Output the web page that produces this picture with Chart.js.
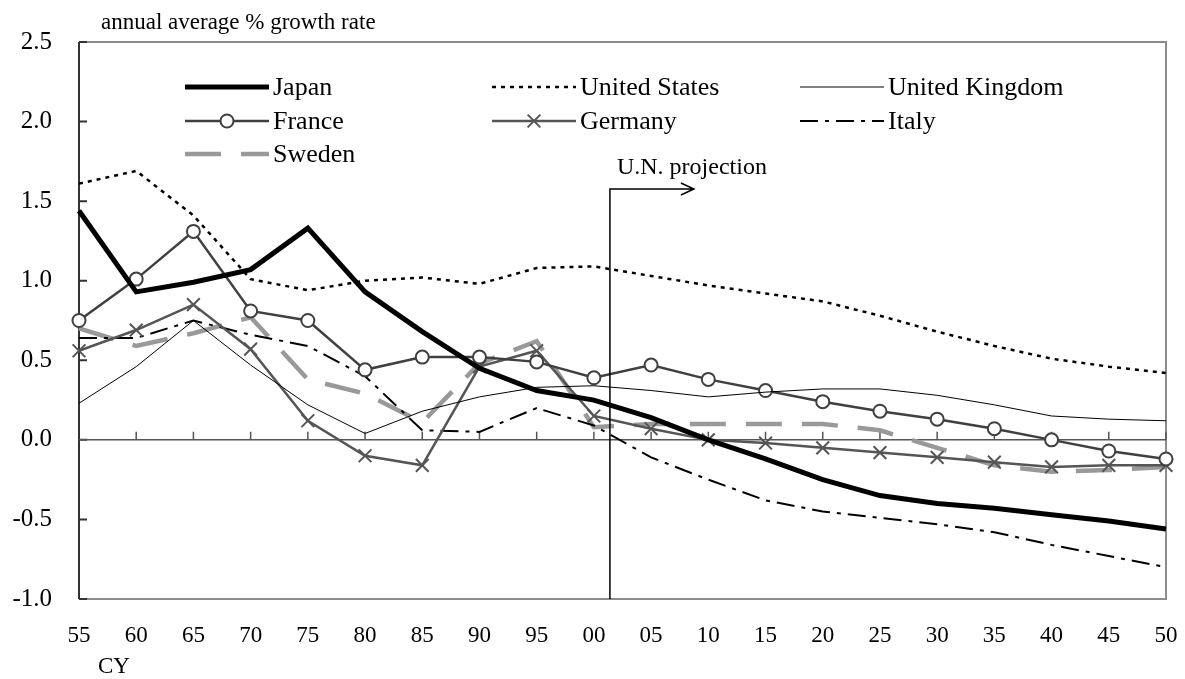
<!DOCTYPE html>
<html>
<head>
<meta charset="utf-8">
<script src="https://cdn.jsdelivr.net/npm/chart.js@4.4.1/dist/chart.umd.min.js"></script>
<style>
html, body { margin: 0; padding: 0; background: #fff; }
#wrap { width: 1185px; height: 679px; }
</style>
</head>
<body>
<div id="wrap"><canvas id="chart"></canvas></div>
<script>
const years = ['55', '60', '65', '70', '75', '80', '85', '90', '95', '00',
	'05', '10', '15', '20', '25', '30', '35', '40', '45', '50'];

const japan   = [1.44, 0.93, 0.99, 1.07, 1.33, 0.93, 0.68, 0.45, 0.31, 0.25, 0.14, 0.00, -0.12, -0.25, -0.35, -0.40, -0.43, -0.47, -0.51, -0.56];
const usa     = [1.61, 1.69, 1.41, 1.01, 0.94, 1.00, 1.02, 0.98, 1.08, 1.09, 1.03, 0.97, 0.92, 0.87, 0.78, 0.68, 0.59, 0.51, 0.46, 0.42];
const uk      = [0.23, 0.46, 0.75, 0.47, 0.22, 0.04, 0.18, 0.27, 0.33, 0.34, 0.31, 0.27, 0.30, 0.32, 0.32, 0.28, 0.22, 0.15, 0.13, 0.12];
const france  = [0.75, 1.01, 1.31, 0.81, 0.75, 0.44, 0.52, 0.52, 0.49, 0.39, 0.47, 0.38, 0.31, 0.24, 0.18, 0.13, 0.07, 0.00, -0.07, -0.12];
const germany = [0.56, 0.69, 0.85, 0.57, 0.12, -0.10, -0.16, 0.46, 0.56, 0.15, 0.07, 0.00, -0.02, -0.05, -0.08, -0.11, -0.14, -0.17, -0.16, -0.16];
const italy   = [0.64, 0.64, 0.75, 0.66, 0.59, 0.40, 0.06, 0.05, 0.20, 0.09, -0.11, -0.25, -0.38, -0.45, -0.49, -0.53, -0.58, -0.66, -0.73, -0.80];
const sweden  = [0.70, 0.59, 0.67, 0.77, 0.38, 0.29, 0.11, 0.48, 0.62, 0.08, 0.10, 0.10, 0.10, 0.10, 0.06, -0.05, -0.16, -0.20, -0.19, -0.17];

const FONT = "'Liberation Serif', 'Times New Roman', serif";

function series(label, data, color, width, dash, extra) {
	return Object.assign({
		label: label,
		data: data,
		borderColor: color,
		backgroundColor: color,
		borderWidth: width,
		borderDash: dash,
		pointRadius: 0,
		tension: 0,
		clip: false
	}, extra || {});
}

const datasets = [
	series('Japan', japan, '#000', 5, []),
	series('United States', usa, '#000', 2.5, [4, 5]),
	series('United Kingdom', uk, '#000', 1, []),
	series('France', france, '#404040', 2.5, [], {
		pointStyle: 'circle', pointRadius: 6.5, pointBorderWidth: 2,
		pointBackgroundColor: '#fff', pointBorderColor: '#404040'
	}),
	series('Germany', germany, '#555', 2.5, [], {
		pointStyle: 'crossRot', pointRadius: 9, pointBorderWidth: 2,
		pointBorderColor: '#555'
	}),
	series('Italy', italy, '#000', 2, [18, 7, 4, 7]),
	series('Sweden', sweden, '#999', 4.5, [36, 20])
];

// frame, zero line with ticks, annotation, legend
const framePlugin = {
	id: 'frame',
	beforeDatasetsDraw(chart) {
		const { ctx, chartArea: a, scales } = chart;
		ctx.save();
		ctx.strokeStyle = '#8c8c8c';
		ctx.lineWidth = 2;
		ctx.beginPath();
		ctx.moveTo(a.left, a.top);
		ctx.lineTo(a.right, a.top);
		ctx.lineTo(a.right, a.bottom);
		ctx.lineTo(a.left, a.bottom);
		ctx.stroke();
		// left axis
		ctx.strokeStyle = '#333';
		ctx.beginPath();
		ctx.moveTo(a.left, a.top);
		ctx.lineTo(a.left, a.bottom);
		scales.y.ticks.forEach(t => {
			const y = scales.y.getPixelForValue(t.value);
			ctx.moveTo(a.left, y);
			ctx.lineTo(a.left + 8, y);
		});
		ctx.stroke();
		// zero line
		const y0 = scales.y.getPixelForValue(0);
		ctx.strokeStyle = '#555';
		ctx.lineWidth = 1.5;
		ctx.beginPath();
		ctx.moveTo(a.left, y0);
		ctx.lineTo(a.right, y0);
		for (let i = 1; i < years.length; i++) {
			const x = scales.x.getPixelForValue(i);
			ctx.moveTo(x, y0);
			ctx.lineTo(x, y0 - 8);
		}
		ctx.stroke();
		ctx.restore();
	},
	afterDatasetsDraw(chart) {
		const { ctx, chartArea: a, scales } = chart;
		const x0 = scales.x.getPixelForValue(9);
		const x1 = scales.x.getPixelForValue(10);
		const xl = x0 + (x1 - x0) * 0.28;
		const yt = 189;
		const xe = xl + 84;
		ctx.save();
		ctx.strokeStyle = '#000';
		ctx.lineWidth = 1.5;
		ctx.beginPath();
		ctx.moveTo(xl, a.bottom);
		ctx.lineTo(xl, yt);
		ctx.lineTo(xe, yt);
		ctx.moveTo(xe - 13, yt - 6);
		ctx.lineTo(xe, yt);
		ctx.lineTo(xe - 13, yt + 6);
		ctx.stroke();
		ctx.fillStyle = '#000';
		ctx.font = '24px ' + FONT;
		ctx.textBaseline = 'alphabetic';
		ctx.textAlign = 'left';
		ctx.fillText('U.N. projection', xl + 7, 174);
		ctx.restore();
	},
	afterDraw(chart) {
		const { ctx } = chart;
		ctx.save();
		ctx.fillStyle = '#000';
		ctx.font = '23px ' + FONT;
		ctx.textBaseline = 'alphabetic';
		ctx.textAlign = 'left';
		ctx.fillText('annual average % growth rate', 101, 29);
		ctx.fillText('CY', 98, 673);

		const colX = [185, 492, 800];
		const rowY = [87, 121, 154];
		const len = 84;
		chart.data.datasets.forEach((ds, i) => {
			const x = colX[i % 3];
			const y = rowY[Math.floor(i / 3)];
			ctx.save();
			ctx.strokeStyle = ds.borderColor;
			ctx.lineWidth = ds.borderWidth;
			ctx.setLineDash(ds.borderDash || []);
			ctx.beginPath();
			ctx.moveTo(x, y);
			ctx.lineTo(x + len, y);
			ctx.stroke();
			ctx.restore();
			if (ds.pointRadius > 0) {
				ctx.save();
				ctx.strokeStyle = ds.pointBorderColor;
				ctx.fillStyle = ds.pointBackgroundColor || '#fff';
				ctx.lineWidth = ds.pointBorderWidth;
				Chart.helpers.drawPoint(ctx, {
					pointStyle: ds.pointStyle,
					radius: ds.pointRadius,
					borderWidth: ds.pointBorderWidth,
					rotation: 0
				}, x + len / 2, y);
				ctx.restore();
			}
			ctx.fillStyle = '#000';
			ctx.font = '26px ' + FONT;
			ctx.textBaseline = 'middle';
			ctx.fillText(ds.label, x + len + 4, y + 1);
		});
		ctx.restore();
	}
};

new Chart(document.getElementById('chart').getContext('2d'), {
	type: 'line',
	data: { labels: years, datasets: datasets },
	options: {
		responsive: true,
		maintainAspectRatio: false,
		animation: false,
		layout: { padding: { top: 39, right: 19, left: 0, bottom: 0 } },
		plugins: {
			legend: { display: false },
			tooltip: { enabled: false }
		},
		scales: {
			x: {
				grid: { display: false, drawTicks: false },
				border: { display: false },
				ticks: {
					color: '#000',
					font: { family: FONT, size: 23 },
					padding: 23,
					maxRotation: 0,
					autoSkip: false
				},
				afterFit(s) {
					s.height = 80;
					s.paddingLeft = 0;
					s.paddingRight = 0;
				}
			},
			y: {
				min: -1,
				max: 2.5,
				grid: { display: false, drawTicks: false },
				border: { display: false },
				ticks: {
					stepSize: 0.5,
					color: '#000',
					font: { family: FONT, size: 25 },
					padding: 27,
					callback: v => v.toFixed(1)
				},
				afterFit(s) { s.width = 79; }
			}
		}
	},
	plugins: [framePlugin]
});
</script>
</body>
</html>
